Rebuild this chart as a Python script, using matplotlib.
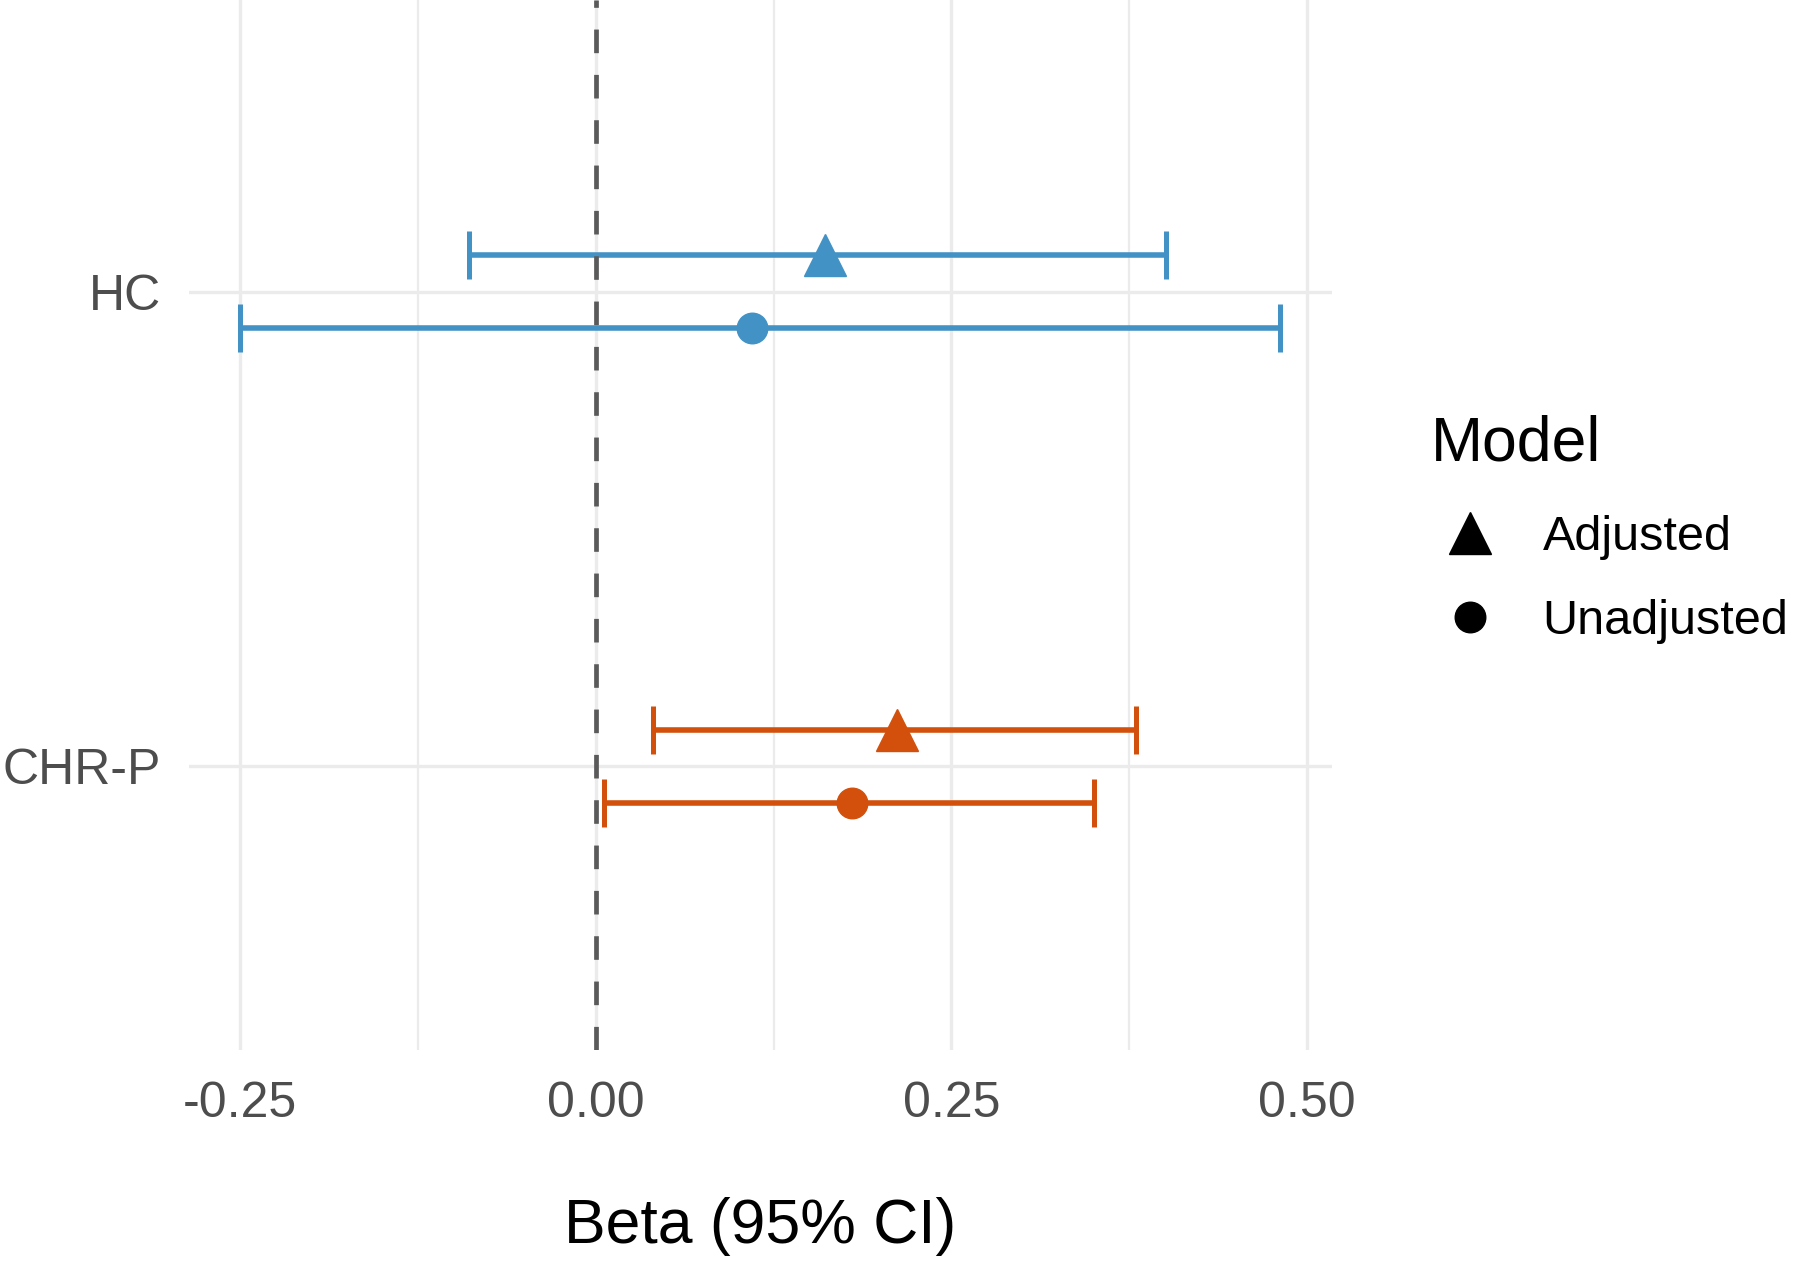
import numpy as np
import matplotlib
matplotlib.use("Agg")
import matplotlib.pyplot as plt
from matplotlib.lines import Line2D

plt.rcParams['font.family'] = ['Liberation Sans', 'DejaVu Sans']

# data
groups = ['CHR-P', 'HC']
group_colors = ['#D2500C', '#4292C6']
models = ['Adjusted', 'Unadjusted']
model_markers = ['^', 'o']
model_sizes = [30, 22]

beta_adj = [0.212, 0.161]
lo_adj = [0.040, -0.089]
hi_adj = [0.380, 0.401]

beta_unadj = [0.180, 0.110]
lo_unadj = [0.006, -0.250]
hi_unadj = [0.350, 0.481]

x_ticks = [-0.25, 0.00, 0.25, 0.50]
x_tick_labels = ['-0.25', '0.00', '0.25', '0.50']

fig = plt.figure(figsize=(18, 12.63), dpi=100)
ax = fig.add_axes([0.105, 0.169, 0.635, 0.831])

ypos = np.arange(1, len(groups) + 1)
dodge = 0.077

series = [
    (beta_adj, lo_adj, hi_adj, +dodge, 0),
    (beta_unadj, lo_unadj, hi_unadj, -dodge, 1),
]
for beta, lo, hi, off, m in series:
    for i, g in enumerate(groups):
        b = beta[i]
        xerr = [[b - lo[i]], [hi[i] - b]]
        ax.errorbar(b, ypos[i] + off, xerr=xerr, fmt='none',
                    ecolor=group_colors[i], elinewidth=4.0, capsize=17,
                    capthick=3.6, zorder=3)
        ax.plot(b, ypos[i] + off, marker=model_markers[m],
                markersize=model_sizes[m], color=group_colors[i],
                linestyle='none', zorder=5)

ax.axvline(0, color='#5A5A5A', linewidth=3.4, dashes=(5.0, 4.6), zorder=4)

ax.set_xlim(-0.286, 0.5176)
ax.set_ylim(0.403, 2.615)
ax.set_xticks(x_ticks)
ax.set_xticklabels(x_tick_labels)
ax.set_xticks([-0.125, 0.125, 0.375], minor=True)
ax.set_yticks(ypos)
ax.set_yticklabels(groups)

ax.grid(True, which='major', color='#EBEBEB', linewidth=2.4, zorder=0)
ax.grid(True, which='minor', axis='x', color='#EBEBEB', linewidth=1.6, zorder=0)
ax.set_axisbelow(True)
for s in ax.spines.values():
    s.set_visible(False)
ax.tick_params(axis='both', which='both', length=0, labelsize=36,
               labelcolor='#4D4D4D')
ax.tick_params(axis='x', pad=23)
ax.tick_params(axis='y', pad=20)

ax.set_xlabel('Beta (95% CI)', fontsize=45, labelpad=50, color='black')

handles = [Line2D([], [], marker=model_markers[k], color='black', linestyle='none',
                  markersize=model_sizes[k]) for k in range(len(models))]
leg = fig.legend(handles, models, title='Model', loc='center left',
                 bbox_to_anchor=(0.784, 0.581), frameon=False, fontsize=35,
                 title_fontsize=45, handletextpad=0.7, labelspacing=0.8,
                 borderaxespad=0, handlelength=1.6)
leg._legend_box.align = 'left'
leg._legend_box.sep = 30

fig.savefig('out.png', dpi=100)
